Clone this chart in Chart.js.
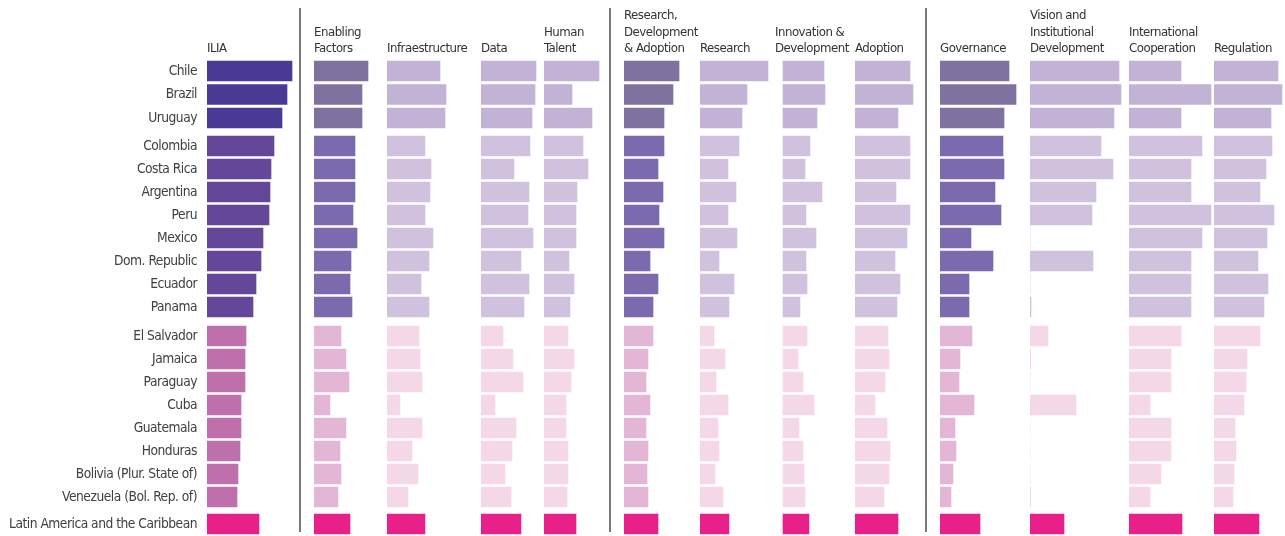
<!DOCTYPE html>
<html>
<head>
<meta charset="utf-8">
<title>ILIA by country and dimension</title>
<script src="https://cdn.jsdelivr.net/npm/chart.js@4.4.1/dist/chart.umd.min.js"></script>
<style>
  html, body { margin: 0; padding: 0; background: #fff; }
  #wrap { position: relative; width: 1285px; height: 536px; overflow: hidden; }
  .block { position: absolute; left: 0; width: 1285px; }
</style>
</head>
<body>
<div id="wrap"></div>
<script>
// Countries, top to bottom
const countries = ['Chile', 'Brazil', 'Uruguay', 'Colombia', 'Costa Rica', 'Argentina', 'Peru', 'Mexico',
    'Dom. Republic', 'Ecuador', 'Panama', 'El Salvador', 'Jamaica', 'Paraguay', 'Cuba', 'Guatemala',
    'Honduras', 'Bolivia (Plur. State of)', 'Venezuela (Bol. Rep. of)', 'Latin America and the Caribbean'];

// Number of countries in each tier (top group, middle group, lower group, regional average)
const tierSizes = [3, 8, 8, 1];

// Column headers
const headers = [['ILIA'], ['Enabling', 'Factors'], ['Infraestructure'], ['Data'], ['Human', 'Talent'],
    ['Research,', 'Development', '& Adoption'], ['Research'], ['Innovation &', 'Development'], ['Adoption'],
    ['Governance'], ['Vision and', 'Institutional', 'Development'], ['International', 'Cooperation'], ['Regulation']];

// Scores (same order as countries)
const ilia        = [85, 80, 75, 67, 64, 63, 62, 56, 54, 49, 46, 39, 38, 38, 34, 34, 33, 31, 30, 52];
const enabling    = [54, 48, 48, 41, 41, 41, 39, 43, 37, 36, 38, 27, 32, 35, 16, 32, 26, 27, 24, 36];
const infra       = [53, 59, 58, 38, 44, 43, 38, 46, 42, 34, 42, 32, 33, 35, 13, 35, 25, 31, 21, 38];
const dataScore   = [55, 54, 51, 49, 33, 48, 47, 52, 40, 48, 43, 22, 32, 42, 14, 35, 31, 24, 30, 40];
const talent      = [55, 28, 48, 39, 44, 33, 32, 32, 25, 30, 26, 24, 30, 27, 22, 22, 24, 24, 23, 32];
const rda         = [55, 49, 40, 40, 34, 39, 35, 40, 26, 34, 29, 29, 24, 22, 26, 22, 24, 23, 24, 34];
const research    = [68, 47, 42, 39, 28, 36, 28, 37, 19, 34, 29, 14, 25, 16, 28, 18, 19, 15, 23, 29];
const innovation  = [41, 42, 34, 27, 22, 39, 23, 33, 23, 24, 17, 24, 15, 20, 31, 16, 20, 21, 22, 26];
const adoption    = [55, 58, 43, 55, 55, 41, 55, 52, 40, 45, 42, 33, 34, 30, 20, 32, 35, 34, 29, 43];
const governance  = [69, 76, 64, 63, 64, 55, 61, 31, 53, 29, 29, 32, 20, 19, 34, 15, 16, 13, 11, 40];
const vision      = [89, 91, 84, 71, 83, 66, 62, 0, 63, 0, 1, 18, 0.7, 0, 46, 0, 0, 0, 0.7, 34];
const cooperation = [52, 82, 52, 73, 62, 62, 82, 73, 62, 62, 62, 52, 42, 42, 21, 42, 42, 32, 21, 53];
const regulation  = [64, 68, 57, 58, 52, 46, 60, 53, 44, 54, 50, 46, 33, 32, 30, 21, 22, 20, 19, 45];

const series = [ilia, enabling, infra, dataScore, talent, rda, research, innovation, adoption,
    governance, vision, cooperation, regulation];

// Which kind of column each one is: overall index, dimension or sub-dimension
const kinds = ['index', 'dim', 'sub', 'sub', 'sub', 'dim', 'sub', 'sub', 'sub', 'dim', 'sub', 'sub', 'sub'];

// Colours per kind, one per tier
const palette = {
    index: ['#4a3a96', '#654799', '#bf6fab', '#e8208a'],
    dim:   ['#7f72a1', '#7c6aaf', '#e2b6d4', '#e8208a'],
    sub:   ['#c2b2d6', '#d0c1de', '#f5d8e7', '#e8208a']
};

// Layout settings
const LABEL_WIDTH = 207;
const columnWidths = [107, 73, 94, 63, 80, 76, 75, 80, 85, 90, 99, 85, 71];
const columnShift  = [0, 0, 0, 0, 0, 0, 0, 8, 0, 0, 0, 0, 0];   // header sits left of the bars
const separatorsBefore = [1, 5, 9];
const blocks = [
    { top: 0,   height: 132, padTop: 7.75, padBottom: 2.25, lineTop: 8, lineBottom: 132, headers: true },
    { top: 132, height: 189, padTop: 2.5,  padBottom: 2.5,  lineTop: 0, lineBottom: 189 },
    { top: 321, height: 190, padTop: 3.5,  padBottom: 2.5,  lineTop: 0, lineBottom: 190 },
    { top: 511, height: 25,  padTop: 1.5,  padBottom: 0.5,  lineTop: 0, lineBottom: 21 }
];

// No condensed face like the original, so tighten the letters a little instead
const FONT_FAMILY = '"Liberation Sans Narrow", "DejaVu Sans Condensed", "Arial Narrow", sans-serif';
const LETTER_SPACING = '-0.5px';

// Pick a font size so a known string takes the same width as in the picture
function fitFontSize(text, width) {
    const ctx = document.createElement('canvas').getContext('2d');
    ctx.font = '100px ' + FONT_FAMILY;
    let size = 100 * width / ctx.measureText(text).width;
    ctx.letterSpacing = LETTER_SPACING;
    // a few passes, since the spacing does not scale with the size
    for (let k = 0; k < 4; k++) {
        ctx.font = size + 'px ' + FONT_FAMILY;
        size = size * width / ctx.measureText(text).width;
    }
    return Math.round(size * 10) / 10;
}
const labelSize = fitFontSize('Latin America and the Caribbean', 188);
const headerSize = fitFontSize('Development', 74);

// Tier index for every row
const tierOf = [];
tierSizes.forEach((n, t) => { for (let i = 0; i < n; i++) tierOf.push(t); });

// Grey vertical rules between the three column groups (+ letter spacing for the texts)
const separatorPlugin = {
    id: 'separators',
    beforeDraw(chart) {
        chart.ctx.letterSpacing = LETTER_SPACING;
    },
    afterDraw(chart, args, opts) {
        const ctx = chart.ctx;
        ctx.save();
        ctx.strokeStyle = '#7a7a7a';
        ctx.lineWidth = 2;
        separatorsBefore.forEach(i => {
            const x = chart.scales['x' + i].left - 14;
            ctx.beginPath();
            ctx.moveTo(x, opts.top);
            ctx.lineTo(x, opts.bottom);
            ctx.stroke();
        });
        ctx.restore();
    }
};

function buildScales(block) {
    const scales = {
        y: {
            type: 'category',
            position: 'left',
            grid: { display: false, drawTicks: false },
            border: { display: false },
            ticks: { padding: 10, color: '#404040', font: { family: FONT_FAMILY, size: labelSize } },
            afterFit: function (scale) {
                // fixed label column, and no extra room kept for half labels above/below
                scale.width = LABEL_WIDTH;
                scale.paddingTop = 0;
                scale.paddingBottom = 0;
            }
        }
    };
    headers.forEach((h, i) => {
        const lines = Array(3 - h.length).fill('').concat(h);
        scales['x' + i] = {
            type: 'linear',
            position: 'top',
            stack: 'columns',
            stackWeight: columnWidths[i],
            weight: headers.length - i,   // top boxes are laid out by descending weight
            min: -columnShift[i],
            max: columnWidths[i] - columnShift[i],
            grid: { display: false, drawTicks: false },
            border: { display: false },
            ticks: { display: false },
            title: {
                display: !!block.headers,
                text: lines,
                align: 'start',
                color: '#333',
                padding: { top: 0, bottom: 2 },
                font: { family: FONT_FAMILY, size: headerSize, lineHeight: '16.5px' }
            }
        };
    });
    return scales;
}

const wrap = document.getElementById('wrap');
let start = 0;
blocks.forEach((block, b) => {
    const end = start + tierSizes[b];
    const rows = [];
    for (let r = start; r < end; r++) rows.push(r);

    const div = document.createElement('div');
    div.className = 'block';
    div.style.top = block.top + 'px';
    div.style.height = block.height + 'px';
    const canvas = document.createElement('canvas');
    div.appendChild(canvas);
    wrap.appendChild(div);

    const datasets = series.map((values, i) => ({
        label: headers[i].join(' '),
        data: rows.map(r => values[r]),
        xAxisID: 'x' + i,
        yAxisID: 'y',
        grouped: false,
        barThickness: 20,
        borderWidth: 0,
        backgroundColor: rows.map(r => palette[kinds[i]][tierOf[r]])
    }));

    new Chart(canvas, {
        type: 'bar',
        data: { labels: rows.map(r => countries[r]), datasets: datasets },
        options: {
            indexAxis: 'y',
            responsive: true,
            maintainAspectRatio: false,
            animation: false,
            events: [],
            layout: { padding: { top: block.padTop, bottom: block.padBottom, left: 0, right: 0 } },
            scales: buildScales(block),
            plugins: {
                legend: { display: false },
                tooltip: { enabled: false },
                separators: { top: block.lineTop, bottom: block.lineBottom }
            }
        },
        plugins: [separatorPlugin]
    });
    start = end;
});
</script>
</body>
</html>
